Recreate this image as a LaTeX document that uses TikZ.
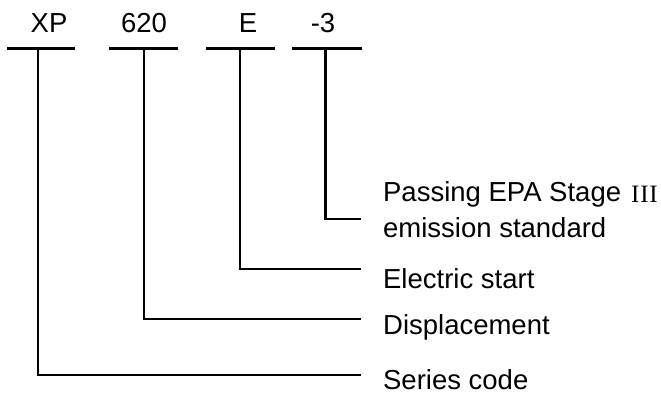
\documentclass[tikz,border=0pt]{standalone}
\usepackage{fontspec}
\setmainfont{Liberation Sans}
\newfontfamily\romanfont{Liberation Serif}
\begin{document}
\begin{tikzpicture}[x=1pt,y=-1pt, line width=2.3pt,
  lbl/.style={inner sep=0pt, font=\fontsize{27.5}{33}\selectfont},
  codetext/.style={lbl, anchor=base},
  desc/.style={lbl, anchor=base west},
  romantext/.style={inner sep=0pt, anchor=base west, font=\romanfont\fontsize{25}{30}\selectfont},
  bar/.style={line cap=butt},
  lead/.style={line join=miter}]
\useasboundingbox (0,0) rectangle (661,395);
% code texts
\node[codetext] (tXP) at (49,33) {XP};
\node[codetext] (t620) at (144,33) {620};
\node[codetext] (tE) at (248,33) {E};
\node[codetext] (t3) at (323,33) {-3};
% bars
\coordinate (b1l) at (7,48.5);   \coordinate (b1r) at (75,48.5);
\coordinate (b2l) at (109,48.5); \coordinate (b2r) at (178,48.5);
\coordinate (b3l) at (206,48.5); \coordinate (b3r) at (275,48.5);
\coordinate (b4l) at (292,48.5); \coordinate (b4r) at (362,48.5);
\draw[bar] (b1l) -- (b1r);
\draw[bar] (b2l) -- (b2r);
\draw[bar] (b3l) -- (b3r);
\draw[bar] (b4l) -- (b4r);
% leader start points
\coordinate (s1) at (38,48.5);
\coordinate (s2) at (144,48.5);
\coordinate (s3) at (240,48.5);
\coordinate (s4) at (325.5,48.5);
% leader ends
\coordinate (e1) at (361,375);
\coordinate (e2) at (361,319);
\coordinate (e3) at (361,269);
\coordinate (e4) at (361,219);
\draw[lead] (s1) |- (e1);
\draw[lead] (s2) |- (e2);
\draw[lead] (s3) |- (e3);
\draw[lead] (s4) |- (e4);
% descriptions
\node[desc] (d4a) at (382,202) {Passing EPA Stage};
\node[romantext] (d4r) at (630,203) {I\kern0.8pt I\kern0.8pt I};
\node[desc] (d4b) at (382,238) {emission standard};
\node[desc] (d3) at (382,288) {Electric start};
\node[desc] (d2) at (382,334) {Displacement};
\node[desc] (d1) at (382,389) {Series code};
\end{tikzpicture}
\end{document}
